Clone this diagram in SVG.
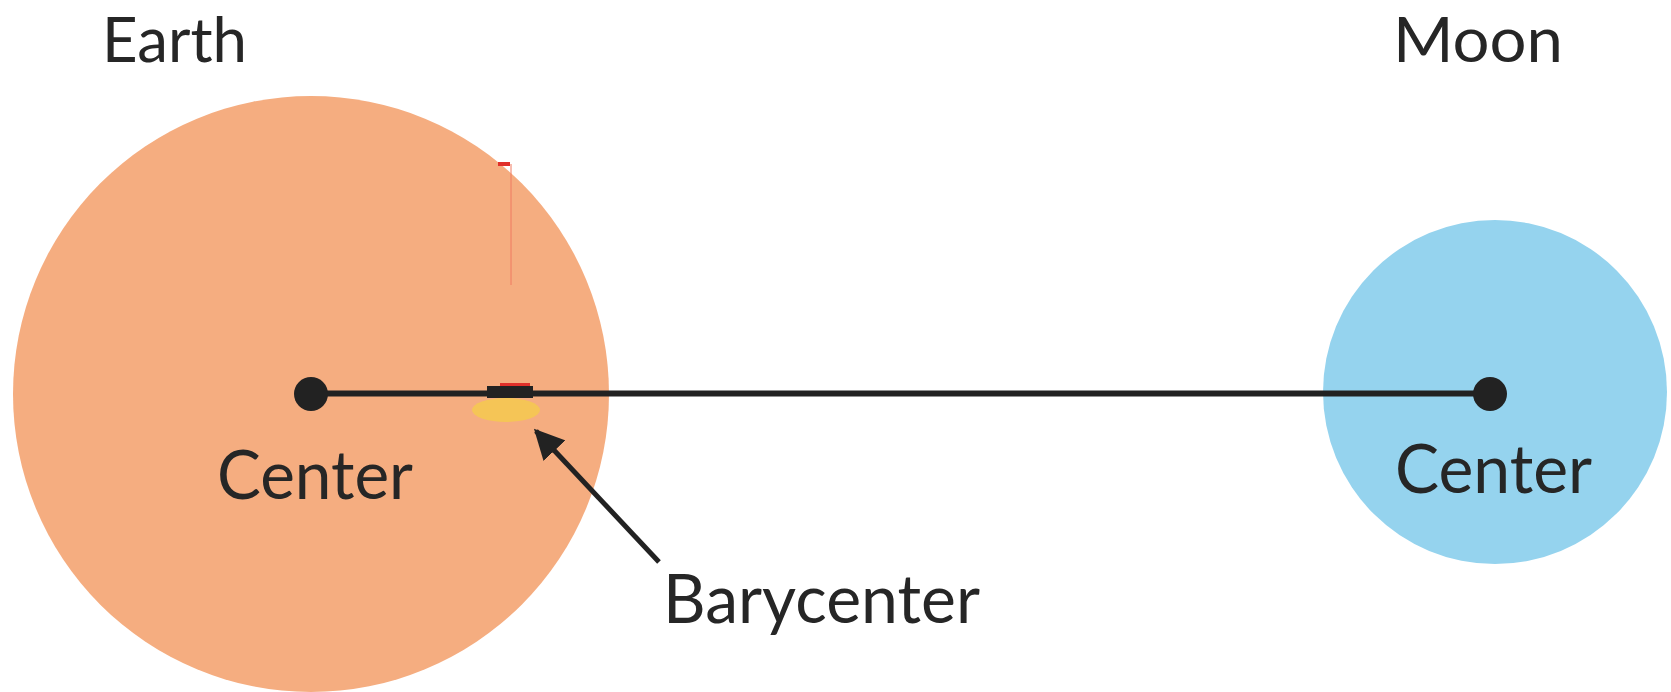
<svg xmlns="http://www.w3.org/2000/svg" width="1671" height="692" viewBox="0 0 1671 692">
<style>
.lbl{font-family:Lato,"Liberation Sans",sans-serif;font-size:67px;fill:#262626}
.top{font-size:62px}
.dot{fill:#222}
</style>
<defs>
<marker id="ah" viewBox="0 0 10 10" refX="9" refY="5" markerWidth="6" markerHeight="6" markerUnits="strokeWidth" orient="auto">
<path d="M0,0 L10,5 L0,10 z" fill="#222"/>
</marker>
</defs>
<rect width="1671" height="692" fill="#fff"/>
<g id="earth">
<circle cx="311" cy="394" r="298" fill="#f5ad80"/>
<text class="lbl top" x="102" y="62" textLength="145" lengthAdjust="spacingAndGlyphs">Earth</text>
<text class="lbl" x="217" y="499" textLength="196" lengthAdjust="spacingAndGlyphs">Center</text>
</g>
<g id="moon">
<circle cx="1495" cy="392" r="172" fill="#95d3ee"/>
<text class="lbl top" x="1393" y="62" textLength="170" lengthAdjust="spacingAndGlyphs">Moon</text>
<text class="lbl" x="1395" y="493" textLength="197" lengthAdjust="spacingAndGlyphs">Center</text>
</g>
<g id="barycenter">
<ellipse cx="506" cy="410" rx="34" ry="12" fill="#f5c556"/>
<line x1="511" y1="164" x2="511" y2="285" stroke="#f07a60" stroke-width="1"/>
<rect x="498" y="162" width="12" height="4" fill="#e0302a"/>
<rect x="500" y="383" width="30" height="4" fill="#e0302a"/>
<text class="lbl" x="663" y="623" textLength="317" lengthAdjust="spacingAndGlyphs">Barycenter</text>
</g>
<g id="connectors">
<line x1="311" y1="393.5" x2="1490" y2="393.5" stroke="#222" stroke-width="6"/>
<rect x="487" y="386" width="46" height="12" fill="#222"/>
<circle class="dot" cx="311" cy="394" r="17"/>
<circle class="dot" cx="1490" cy="394" r="17"/>
<line x1="659" y1="562" x2="536" y2="431" stroke="#222" stroke-width="5" marker-end="url(#ah)"/>
</g>
</svg>
